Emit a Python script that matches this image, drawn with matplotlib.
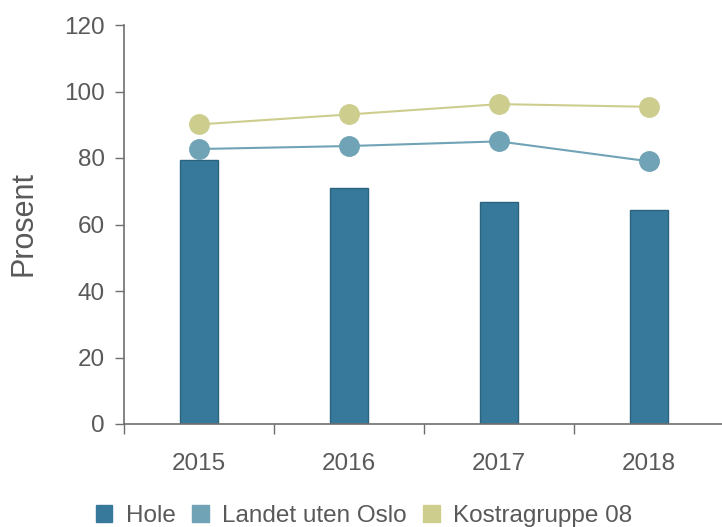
import matplotlib
matplotlib.use("Agg")
import matplotlib.pyplot as plt
from matplotlib.patches import Patch
import numpy as np

plt.rcParams['font.family'] = ['Liberation Sans', 'DejaVu Sans']

years = ["2015", "2016", "2017", "2018"]
hole = [79.4, 71.0, 66.7, 64.4]
landet = [82.7, 83.6, 85.0, 79.0]
kostra = [90.1, 93.1, 96.2, 95.4]
yticks = [0, 20, 40, 60, 80, 100, 120]
labels = ["Hole", "Landet uten Oslo", "Kostragruppe 08"]

c_hole = "#37799a"
c_hole_edge = "#2c6480"
c_landet = "#6fa3b5"
c_kostra = "#cdcd8e"
txt = "#595959"
axc = "#6e6e6e"

fig = plt.figure(figsize=(7.22, 5.27), dpi=100)
ax = fig.add_axes([124/722, 1-424/527, 600/722, 399/527])

x = np.arange(len(years))
ax.bar(x, hole, width=0.255, color=c_hole, edgecolor=c_hole_edge, linewidth=1, zorder=2)
ax.plot(x, landet, color=c_landet, lw=1.5, marker='o', ms=14, zorder=3)
ax.plot(x, kostra, color=c_kostra, lw=1.5, marker='o', ms=14, zorder=3)

ax.set_xlim(-0.5, 3.5)
ax.set_ylim(0, 120)
ax.set_yticks(yticks)
ax.set_xticks(x)
ax.set_xticklabels(years)
ax.set_xticks([-0.5, 0.5, 1.5, 2.5], minor=True)
ax.tick_params(axis='x', which='major', length=0, pad=21, labelsize=17.5, labelcolor=txt)
ax.tick_params(axis='x', which='minor', length=7, width=1, color=axc, direction='out')
ax.tick_params(axis='y', length=6.5, width=1, color=axc, direction='out', labelsize=17.5,
               labelcolor=txt, pad=7.5)

for s in ['top', 'right']:
    ax.spines[s].set_visible(False)
for s in ['left', 'bottom']:
    ax.spines[s].set_color(axc)
    ax.spines[s].set_linewidth(1.2)

ax.set_ylabel("Prosent", fontsize=22, color=txt, va='center')
ax.yaxis.set_label_coords(-100.5/600, (424-223)/399)

handles = [Patch(facecolor=c_hole, edgecolor=c_hole),
           Patch(facecolor=c_landet, edgecolor=c_landet),
           Patch(facecolor=c_kostra, edgecolor=c_kostra)]
leg = fig.legend(handles, labels, loc='center left', bbox_to_anchor=(91/722, 1-516/527), ncol=3,
                 frameon=False, fontsize=17.5, handlelength=0.68, handleheight=0.68,
                 handletextpad=0.55, columnspacing=0.68, labelcolor=txt,
                 borderpad=0.2, borderaxespad=0)

fig.savefig("out.png", dpi=100)
